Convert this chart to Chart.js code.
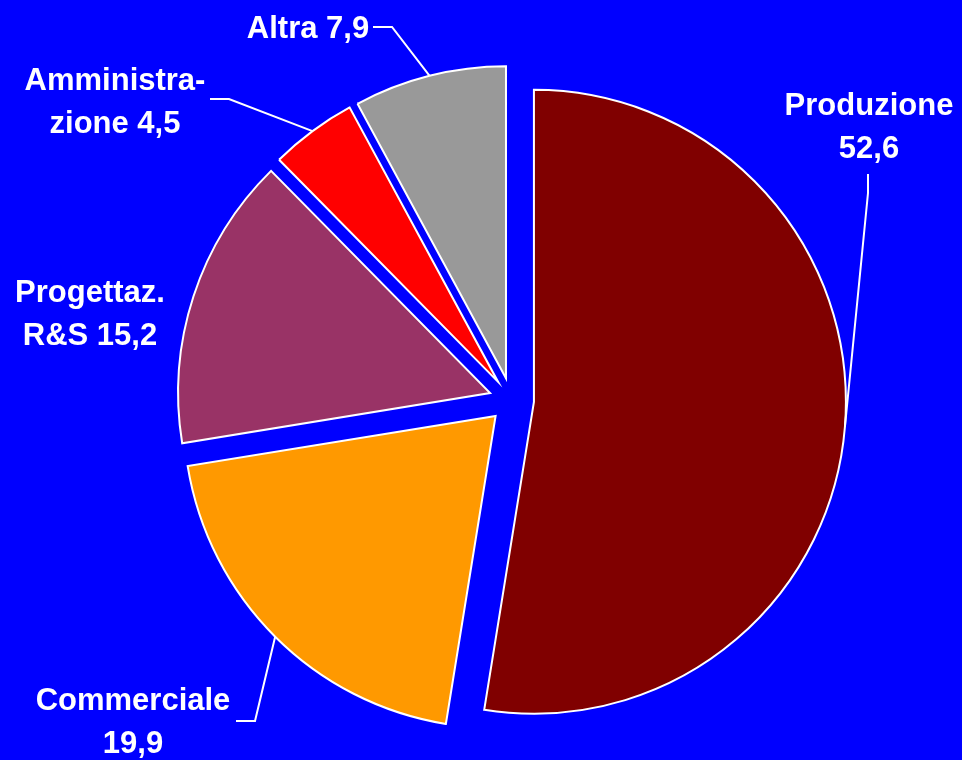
<!DOCTYPE html>
<html>
<head>
<meta charset="utf-8">
<script src="https://cdn.jsdelivr.net/npm/chart.js@4/dist/chart.umd.min.js"></script>
<style>
    html, body { margin: 0; padding: 0; background: #0000ff; }
    #wrap { width: 962px; height: 760px; background: #0000ff; }
</style>
</head>
<body>
<div id="wrap"><canvas id="pieChart" width="962" height="760"></canvas></div>
<script>
// Distribution (%) by area, clockwise from 12 o'clock
const categories = ["Produzione", "Commerciale", "Progettaz. R&S", "Amministrazione", "Altra"];
const values = [52.6, 19.9, 15.2, 4.5, 7.9];
const sliceColors = ["#800000", "#ff9900", "#993366", "#ff0000", "#999999"];

function fmt(v) {
    return v.toFixed(1).replace(".", ",");
}

// label text as it is broken on the slide
const labelLines = [
    ["Produzione", fmt(values[0])],
    ["Commerciale", fmt(values[1])],
    ["Progettaz.", "R&S " + fmt(values[2])],
    ["Amministra-", "zione " + fmt(values[3])],
    ["Altra " + fmt(values[4])],
];

// where each label sits and the bend of its leader line
const labelSpots = [
    { x: 869, y: 106, bend: [[868, 193], [868, 174]] },
    { x: 133, y: 701, bend: [[255, 721], [236, 721]] },
    { x: 90, y: 293, bend: null },
    { x: 115, y: 81, bend: [[229, 99], [210, 99]] },
    { x: 308, y: 29, bend: [[392, 27], [373, 27]] },
];

const EXPLODE = 22.5;

// push every slice away from the centre along its mid angle
const explodePlugin = {
    id: "explode",
    afterDatasetUpdate(chart, args) {
        args.meta.data.forEach(function (arc) {
            const mid = (arc.startAngle + arc.endAngle) / 2;
            arc.x += Math.cos(mid) * EXPLODE;
            arc.y += Math.sin(mid) * EXPLODE;
        });
    },
};

const labelPlugin = {
    id: "sliceLabels",
    afterDatasetsDraw(chart) {
        const ctx = chart.ctx;
        const arcs = chart.getDatasetMeta(0).data;
        ctx.save();
        ctx.strokeStyle = "#ffffff";
        ctx.lineWidth = 2;
        ctx.fillStyle = "#ffffff";
        ctx.font = "bold 31px 'Liberation Sans', Arial, sans-serif";
        ctx.textAlign = "center";
        ctx.textBaseline = "middle";
        arcs.forEach(function (arc, i) {
            const spot = labelSpots[i];
            if (spot.bend) {
                const mid = (arc.startAngle + arc.endAngle) / 2;
                const px = arc.x + Math.cos(mid) * arc.outerRadius;
                const py = arc.y + Math.sin(mid) * arc.outerRadius;
                ctx.beginPath();
                ctx.moveTo(px, py);
                spot.bend.forEach(function (p) {
                    ctx.lineTo(p[0], p[1]);
                });
                ctx.stroke();
            }
            labelLines[i].forEach(function (line, j) {
                ctx.fillText(line, spot.x, spot.y + j * 43);
            });
        });
        ctx.restore();
    },
};

new Chart(document.getElementById("pieChart").getContext("2d"), {
    type: "pie",
    data: {
        labels: categories,
        datasets: [
            {
                data: values,
                backgroundColor: sliceColors,
                borderColor: "#ffffff",
                borderWidth: 2,
                borderJoinStyle: "miter",
                radius: 312,
            },
        ],
    },
    options: {
        responsive: false,
        animation: false,
        events: [],
        layout: { padding: { left: 61, top: 40, right: 0, bottom: 0 } },
        plugins: {
            legend: { display: false },
            tooltip: { enabled: false },
        },
    },
    plugins: [explodePlugin, labelPlugin],
});
</script>
</body>
</html>
